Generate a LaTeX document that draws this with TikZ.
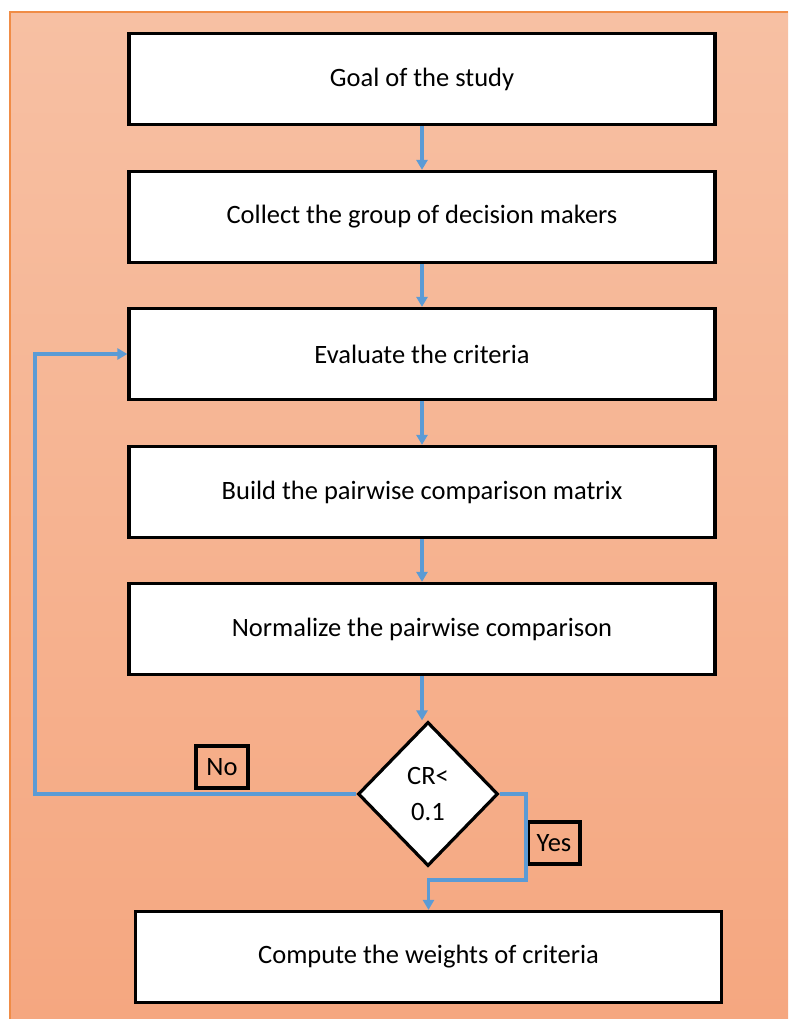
\documentclass[tikz,border=0pt]{standalone}
\usepackage{fontspec}
\setmainfont{Carlito}
\usetikzlibrary{shapes.geometric, arrows.meta, calc}
\definecolor{bgtop}{RGB}{247,192,163}
\definecolor{bgbot}{RGB}{245,167,128}
\definecolor{edgeorange}{RGB}{240,140,70}
\definecolor{flowblue}{RGB}{91,155,213}

\begin{document}
\begin{tikzpicture}[x=1pt, y=1pt,
  sbox/.style={draw, line width=3.2pt, fill=white, minimum width=586pt, minimum height=91pt, inner sep=0pt, font=\fontsize{26.5}{30}\selectfont},
  dbox/.style={diamond, draw, line width=3.2pt, fill=white, minimum width=140pt, minimum height=144pt, inner sep=0pt, align=center, font=\fontsize{26.5}{36}\selectfont},
  lbox/.style={draw, line width=3.2pt, minimum width=52pt, minimum height=42pt, inner sep=0pt, font=\fontsize{26.5}{30}\selectfont},
  flow/.style={draw=flowblue, line width=3.2pt, -{Triangle[length=10pt, width=11pt]}}
]
  % page and orange background
  \useasboundingbox (0,0) rectangle (788,-1019);
  \shade[top color=bgtop, bottom color=bgbot] (10,-12) rectangle (788,-1019);
  \draw[edgeorange, line width=1.5pt] (10,-1019) -- (10,-12) -- (788,-12);

  % steps
  \node[sbox] (goal)    at (422,-79)  {Goal of the study};
  \node[sbox] (collect) at (422,-217) {Collect the group of decision makers};
  \node[sbox] (eval)    at (422,-354) {Evaluate the criteria};
  \node[sbox] (build)   at (422,-492) {Build the pairwise comparison matrix};
  \node[sbox] (normal)  at (422,-629) {Normalize the pairwise comparison};
  \node[dbox] (check)   at (428,-794) {CR<\\0.1};
  \node[sbox] (weights) at (428.5,-957) {Compute the weights of criteria};

  % labels
  \node[lbox] (nolab)  at (222,-767) {No};
  \node[lbox] (yeslab) at (554,-843) {Yes};

  % connectors
  \draw[flow] (goal) -- (collect);
  \draw[flow] (collect) -- (eval);
  \draw[flow] (eval) -- (build);
  \draw[flow] (build) -- (normal);
  \draw[flow] (normal.south) -- (normal.south |- check.north);

  \coordinate (loopcorner) at (35,-794);
  \draw[flow] (check.west) -- (loopcorner) |- (eval.west);

  \coordinate (yesturn) at (526,-880);
  \draw[flow] (check.east) -| (yesturn) -| (weights.north);
\end{tikzpicture}
\end{document}
